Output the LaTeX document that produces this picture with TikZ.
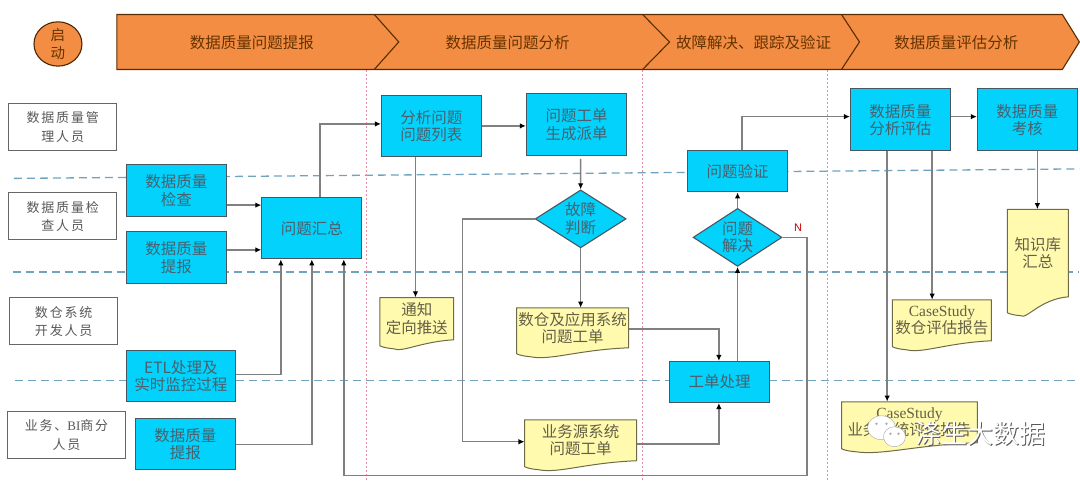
\documentclass[tikz,border=0pt]{standalone}
\usepackage{fontspec}
\setmainfont{Noto Sans CJK SC}
\newfontfamily\rolefont[LetterSpace=14]{Noto Sans CJK SC}
\newfontfamily\latinfont{Liberation Serif}
\newfontfamily\labelfont{Liberation Sans}
\usetikzlibrary{arrows.meta,shapes.geometric}
\definecolor{bandOrange}{HTML}{F28D43}
\definecolor{boxBlue}{HTML}{02D2FC}
\definecolor{docYellow}{HTML}{FFFAAE}
\definecolor{laneBlue}{HTML}{6FA3BE}
\definecolor{stageRed}{HTML}{E58FA6}
\begin{document}
\begin{tikzpicture}
[x=1pt,y=-1pt,
  boxFont/.style={font=\fontsize{15.5}{17.5}\selectfont,align=center},%
  boxDecorate/.style={shape=rectangle,draw=black!70!cyan,line width=1.1pt,fill=boxBlue,inner sep=0pt,text=black!65!cyan,boxFont},%
  gateDecorate/.style={shape=diamond,aspect=1.6,draw=black!70!cyan,line width=1.1pt,fill=boxBlue,inner sep=0pt,text=black!65!cyan,boxFont},%
  roleDecorate/.style={shape=rectangle,draw=black!60,line width=1pt,fill=white,inner sep=0pt,text=black!65,align=center,font=\fontsize{13}{18.5}\selectfont\rolefont},%
  docDecorate/.style={shape=rectangle,inner sep=0pt,text=black!70!yellow,boxFont},%
  titleDecorate/.style={inner sep=0pt,text=black!60!orange,font=\fontsize{15.5}{18}\selectfont},%
  markDecorate/.style={inner sep=0pt,font=\fontsize{26}{26}\selectfont},%
  lineDecorate/.style={draw=black!50,line width=1.4pt,-{Latex[black,length=6pt,width=5.5pt]}}]
%% swimlanes and stage borders
\draw[laneBlue,line width=1.3pt,dash pattern=on 8pt off 5pt] (14,178.5) -- (1080,169);
\draw[laneBlue,line width=1.3pt,dash pattern=on 8pt off 5pt] (13,272.3) -- (1080,272.3);
\draw[laneBlue,line width=1.3pt,dash pattern=on 8pt off 5pt] (15,381) -- (1080,381);
\foreach \x in {366.7, 643, 827.5}
{
  \draw[stageRed,line width=1pt,dash pattern=on 2pt off 2pt] (\x,70) -- (\x,481);
}
%% stage band
\draw[fill=bandOrange,draw=black!65!orange,line width=1.1pt]
  (117,14.5) -- (1063,14.5) -- (1080,42) -- (1063,69.5) -- (117,69.5) -- cycle;
\foreach \x/\tipx in {374.5/399, 643/670, 842/860}
{
  \draw[black!65!orange,line width=1.1pt] (\x,14.5) -- (\tipx,42) -- (\x,69.5);
}
\foreach \nodename/\x/\txt in {
  bandReport/252/数据质量问题提报, bandAnalysis/508/数据质量问题分析,
  bandFix/754/故障解决、跟踪及验证, bandEval/957/数据质量评估分析}
{
  \node (\nodename) at (\x,42.5) [titleDecorate] {\txt};
}
\node (start) at (58,44) [shape=ellipse,draw=black!70!orange,line width=1.1pt,fill=bandOrange,inner sep=0pt,
  minimum width=48pt,minimum height=43pt,align=center,text=black!60!orange,
  font=\fontsize{14.5}{18}\selectfont] {启\\动};
%% role boxes
\foreach \nodename/\xa/\ya/\xb/\yb/\txt in {
  roleManager/9/103.5/116.5/151/{数据质量管\\理人员},
  roleChecker/9/193/116.5/240/{数据质量检\\查人员},
  roleDeveloper/10/298/117.5/345/{数仓系统\\开发人员},
  roleBusiness/7.5/412/125.5/459/{业务、{\latinfont BI}商分\\人员}}
{
  \node (\nodename) at ({(\xa+\xb)/2},{(\ya+\yb)/2}) [roleDecorate,
    minimum width={(\xb-\xa)*1pt},minimum height={(\yb-\ya)*1pt}] {\txt};
}
%% process boxes
\foreach \nodename/\xa/\ya/\xb/\yb/\txt in {
  check/126.5/165/226.5/216.5/{数据质量\\检查},
  reportA/126.5/232/226.5/283.5/{数据质量\\提报},
  etl/126.5/351/235.5/402/{ETL处理及\\实时监控过程},
  reportB/135.5/419/235.5/470/{数据质量\\提报},
  collect/262/198/362/259/{问题汇总},
  analysis/381.7/95.5/481.7/156.5/{分析问题\\问题列表},
  ticket/526.7/94/627/155.5/{问题工单\\生成派单},
  verify/688/151/788/192/{问题验证},
  handle/670/361.7/770/402.7/{工单处理},
  evaluate/851/89/951/151/{数据质量\\分析评估},
  assess/978/89/1078/151/{数据质量\\考核}}
{
  \node (\nodename) at ({(\xa+\xb)/2},{(\ya+\yb)/2}) [boxDecorate,
    minimum width={(\xb-\xa)*1pt},minimum height={(\yb-\ya)*1pt}] {\txt};
}
%% decisions
\foreach \nodename/\x/\y/\w/\txt in {
  judge/581/219/91/{故障\\判断},
  solve/738/237.5/89/{问题\\解决}}
{
  \node (\nodename) at (\x,\y) [gateDecorate,minimum width={\w*1pt},minimum height=58pt] {\txt};
}
%% documents
\foreach \nodename/\xa/\ya/\xb/\yb/\dip/\txt in {
  notify/380/297.7/454/350/10/{通知\\定向推送},
  ticketDw/517/308/629/358/10/{数仓及应用系统\\问题工单},
  ticketBiz/525/420/637/471/10/{业务源系统\\问题工单},
  knowledge/1008/209.5/1069/317/20/{知识库\\汇总},
  caseDw/893/300/992/351/10/{{\latinfont CaseStudy}\\数仓评估报告},
  caseBiz/842/402/978/453/10/{{\latinfont CaseStudy}\\业务系统评估报告}}
{
  \draw[fill=docYellow,draw=black!50!yellow!70!black,line width=1pt]
    (\xa,\ya) -- (\xb,\ya) -- (\xb,\yb-\dip)
    .. controls ({\xb-(\xb-\xa)*0.45},\yb-\dip+2) and ({\xa+(\xb-\xa)*0.3},\yb+3) .. (\xa+14,\yb-1)
    .. controls (\xa+8,\yb-1.5) and (\xa+3,\yb-2.5) .. (\xa,\yb-4) -- cycle;
  \node (\nodename) at ({(\xa+\xb)/2},{(\ya+\yb-\dip)/2}) [docDecorate,
    minimum width={(\xb-\xa)*1pt},minimum height={(\yb-\dip-\ya)*1pt}] {\txt};
}
%% connectors
\draw[lineDecorate] ([yshift=-14.5pt]check.east) -- ([yshift=-14.5pt]check.east -| collect.west);
\draw[lineDecorate] ([yshift=7.75pt]reportA.east) -- ([yshift=7.75pt]reportA.east -| collect.west);
\draw[lineDecorate] ([yshift=1.5pt]etl.east) -| ([xshift=-31pt]collect.south);
\draw[lineDecorate] (reportB.east) -| (collect.south);
\draw[lineDecorate] ([xshift=8pt]collect.north) |- ([yshift=2pt]analysis.west);
\draw[lineDecorate] (analysis.east) -- (analysis.east -| ticket.west);
\draw[lineDecorate] ([xshift=4.15pt,yshift=-3pt]ticket.south) -- (judge.north);
\draw[lineDecorate] (judge.south) -- (judge.south |- ticketDw.north);
\draw[lineDecorate] ([xshift=-16pt]analysis.south) -- ([xshift=-16pt]analysis.south |- notify.north);
\draw[lineDecorate] (judge.west) -- (463,219) |- ([yshift=-1.5pt]ticketBiz.west);
\draw[lineDecorate] ([yshift=-1pt]ticketDw.east) -| ([xshift=-0.7pt]handle.north);
\draw[lineDecorate] ([yshift=-3.8pt]ticketBiz.east) -| ([xshift=-0.7pt]handle.south);
\draw[lineDecorate] ([xshift=18pt]handle.north) -- (solve.south);
\draw[lineDecorate] (solve.north) -- (solve.north |- verify.south);
\draw[lineDecorate] ([xshift=4.3pt]verify.north) |- ([yshift=3.3pt]evaluate.west);
\draw[lineDecorate] ([yshift=3.3pt]evaluate.east) -- ([yshift=3.3pt]assess.west);
\draw[lineDecorate] ([xshift=10pt]assess.south) -- ([xshift=10pt]assess.south |- knowledge.north);
\draw[lineDecorate] ([xshift=31.7pt]evaluate.south) -- ([xshift=31.7pt]evaluate.south |- caseDw.north);
\draw[lineDecorate] ([xshift=-13.3pt]evaluate.south) -- ([xshift=-13.3pt]evaluate.south |- caseBiz.north);
\draw[lineDecorate,line width=1.7pt] (solve.east) -- (807.5,237.5) -- (807.5,475.7) -- (344,475.7) -- ([xshift=32pt]collect.south);
\node (labelN) at (798.5,228) [text=red!75!black,inner sep=0pt,font=\fontsize{11}{11}\selectfont\labelfont] {N};
%% watermark
\draw[fill=white,draw=black!35,thin] (882,428) ellipse [x radius=14,y radius=12];
\draw[fill=white,draw=black!35,thin] (895,437) ellipse [x radius=11,y radius=10];
\foreach \x/\y in {877/424, 887/424, 891/434, 899/434}
{
  \fill[black!30] (\x,\y) circle [radius=1.4];
}
\node (markShadow) at (981.8,434.8) [markDecorate,text=black!65] {涤生大数据};
\node (markText) at (981,434) [markDecorate,text=white] {涤生大数据};
\useasboundingbox (0,0) rectangle (1080,481);
\end{tikzpicture}
\end{document}
